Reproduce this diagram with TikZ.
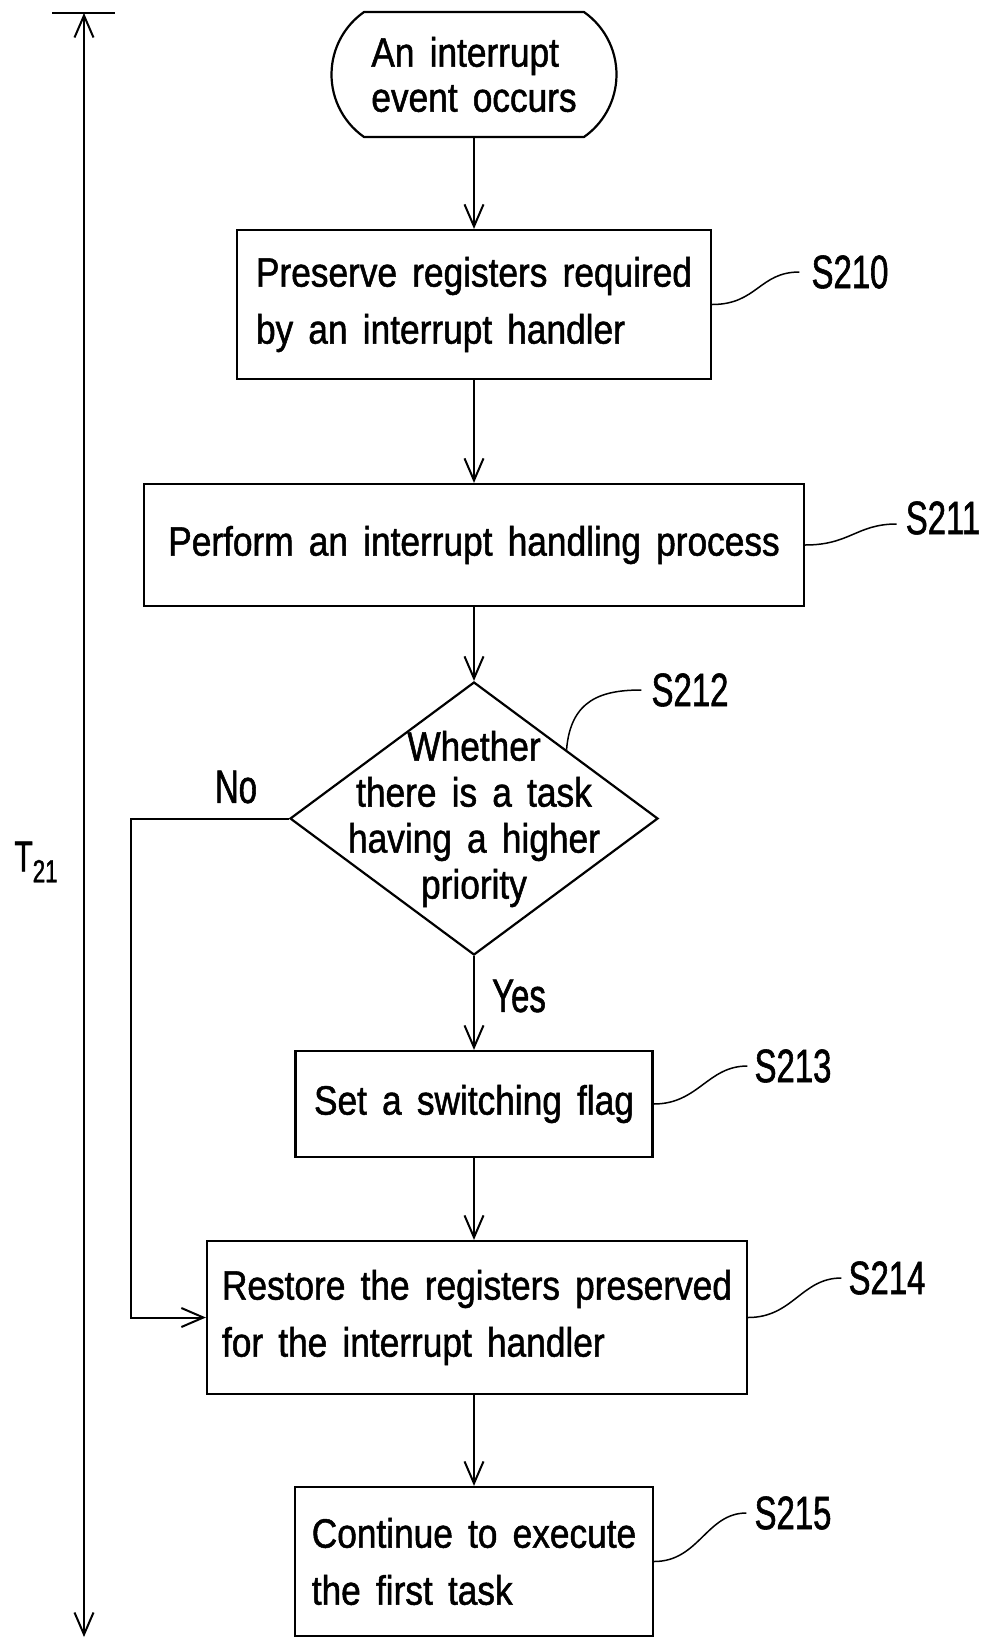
\documentclass[tikz,border=0pt]{standalone}
\usepackage{fontspec}
\setmainfont{Liberation Sans}[FakeStretch=0.86,WordSpace=1.55,FakeBold=1.2]
\newfontfamily\lblfont{Liberation Sans}[FakeStretch=0.7,FakeBold=1.2]
\usetikzlibrary{arrows.meta,shapes.geometric,shapes.misc}
\begin{document}
\begin{tikzpicture}[x=1pt,y=-1pt,
  box/.style={draw,line width=2.2pt,inner sep=0pt,align=left,font=\fontsize{41}{57}\selectfont},
  tip/.tip={Straight Barb[length=22pt,width=19pt,line width=2pt]},
  flow/.style={line width=2pt,-tip},
  lead/.style={line width=1.5pt},
  lbl/.style={font=\lblfont\fontsize{47}{47}\selectfont,inner sep=0pt}]
\useasboundingbox (0,0) rectangle (986,1639);

% nodes
\node[draw,rounded rectangle,rounded rectangle arc length=110,minimum width=285pt,minimum height=125pt,
      line width=2.2pt,inner sep=0pt,align=left,font=\fontsize{41}{45}\selectfont] (start) at (474,74.5) {An interrupt\\event occurs};
\node[box,minimum width=474pt,minimum height=149pt] (s210) at (474,304.5) {Preserve registers required\\by an interrupt handler};
\node[box,minimum width=660pt,minimum height=122pt] (s211) at (474,545) {Perform an interrupt handling process};
\node[draw,diamond,minimum width=368pt,minimum height=273pt,inner sep=0pt,line width=2.2pt] (d) at (474,818.5) {};
\node[align=center,inner sep=0pt,font=\fontsize{41}{46}\selectfont] (dt) at (474,819) {Whether\\there is a task\\having a higher\\priority};
\node[box,minimum width=357pt,minimum height=106pt] (s213) at (474,1104) {Set a switching flag};
\node[box,minimum width=540pt,minimum height=153pt] (s214) at (477,1317.5) {Restore the registers preserved\\for the interrupt handler};
\node[box,minimum width=358pt,minimum height=149pt] (s215) at (474,1561.5) {Continue to execute\\the first task};

% step labels
\node[lbl] (l210) at (850,272) {S210};
\node[lbl] (l211) at (943,518) {S211};
\node[lbl] (l212) at (690,690) {S212};
\node[lbl] (l213) at (793,1066) {S213};
\node[lbl] (l214) at (887,1278) {S214};
\node[lbl] (l215) at (793,1513) {S215};
\node[lbl] (no) at (236,787) {No};
\node[lbl] (yes) at (519,996) {Yes};
\node[inner sep=0pt] (t21) at (36,862) {\lblfont\fontsize{43}{43}\selectfont T\raisebox{-11pt}{\fontsize{32}{32}\selectfont 21}};

% flow arrows
\draw[flow] (start.south) -- (start.south |- s210.north);
\draw[flow] (s210.south) -- (s210.south |- s211.north);
\draw[flow] (s211.south) -- (s211.south |- d.north);
\draw[flow] (d.south) -- (d.south |- s213.north);
\draw[flow] (s213.south) -- (s213.south |- s214.north);
\draw[flow] (s213.south |- s214.south) -- (s213.south |- s215.north);
\coordinate (nl) at (131,818.5);
\draw[flow] (d.west) -- (nl) |- (s214.west);

% leader curves
\draw[lead] (s210.east) .. controls +(45,0) and +(-40,0) .. ([xshift=-12pt]l210.west);
\draw[lead] (s211.east) .. controls +(45,0) and +(-40,0) .. ([xshift=-9pt,yshift=-6pt]l211.west);
\draw[lead] (d.north east) .. controls +(4,-50) and +(-40,0) .. ([xshift=-10pt]l212.west);
\draw[lead] (s213.east) .. controls +(45,0) and +(-40,0) .. ([xshift=-7pt]l213.west);
\draw[lead] (s214.east) .. controls +(45,0) and +(-40,0) .. ([xshift=-7pt]l214.west);
\draw[lead] (s215.east) .. controls +(45,0) and +(-40,0) .. ([xshift=-8pt]l215.west);

% time span T21
\coordinate (ttop) at (84,13);
\coordinate (tbot) at (84,1637);
\coordinate (tb1) at (52,13);
\coordinate (tb2) at (115,13);
\draw[line width=2.4pt] (tb1) -- (tb2);
\draw[line width=2pt,tip-tip] (ttop) -- (tbot);
\end{tikzpicture}
\end{document}
